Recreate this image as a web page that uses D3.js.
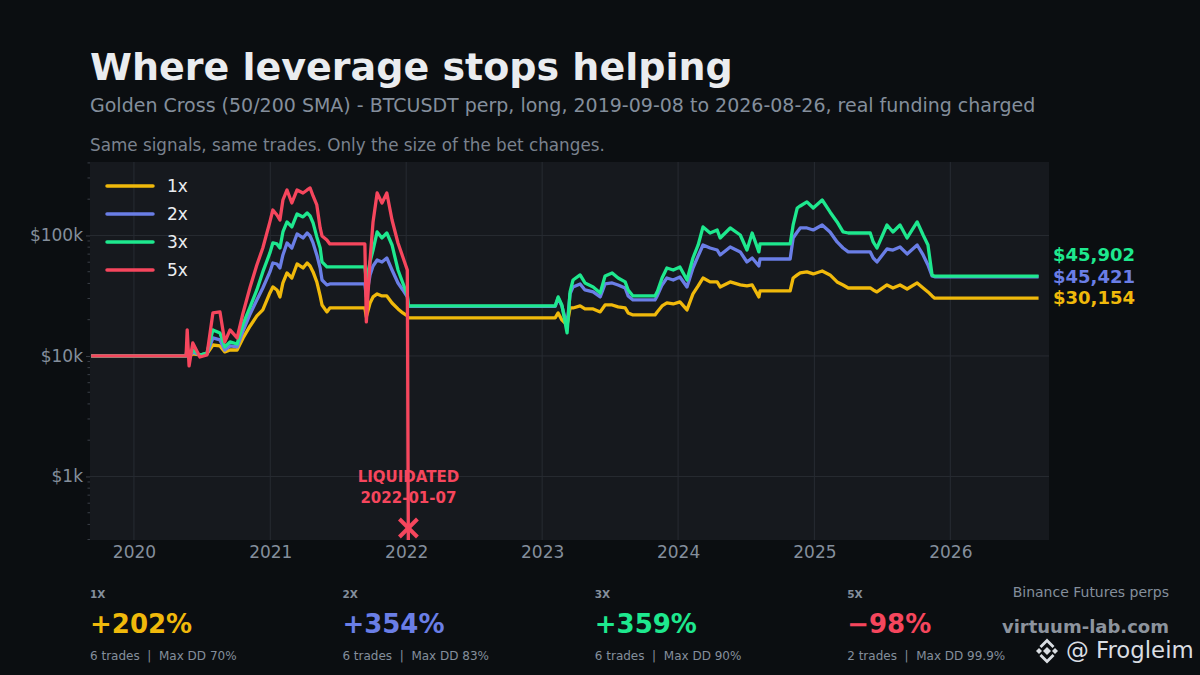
<!DOCTYPE html>
<html>
<head>
<meta charset="utf-8">
<script src="https://cdn.jsdelivr.net/npm/d3@7"></script>
<style>
html, body { margin: 0; padding: 0; background: #0b0e11; }
svg { display: block; font-family: "DejaVu Sans", sans-serif; }
</style>
</head>
<body>
<svg id="chart" width="1200" height="675"></svg>
<script>
// equity curves (USD, start = $10k)
const dates = [
  "2019-09-08","2020-05-20","2020-05-23","2020-05-28","2020-06-07","2020-06-26","2020-07-15","2020-07-31",
  "2020-08-19","2020-09-01","2020-09-15","2020-10-04","2020-10-20","2020-11-08","2020-11-26","2020-12-12",
  "2020-12-31","2021-01-08","2021-01-19","2021-01-27","2021-02-04","2021-02-15","2021-02-28","2021-03-14",
  "2021-03-30","2021-04-10","2021-04-18","2021-04-26","2021-05-06","2021-05-15","2021-05-20","2021-06-02",
  "2021-06-10","2021-09-12","2021-09-16","2021-09-26","2021-10-04","2021-10-15","2021-10-28","2021-11-10",
  "2021-11-24","2021-12-10","2021-12-23","2022-01-04","2022-01-07","2023-02-05","2023-02-13","2023-02-23",
  "2023-03-09","2023-03-17","2023-03-25","2023-04-13","2023-04-26","2023-05-18","2023-06-06","2023-06-19",
  "2023-07-08","2023-07-24","2023-08-12","2023-08-20","2023-09-02","2023-10-31","2023-11-06","2023-11-19",
  "2023-12-02","2023-12-19","2024-01-06","2024-01-25","2024-02-10","2024-02-24","2024-03-08","2024-03-27",
  "2024-04-15","2024-04-23","2024-05-20","2024-06-16","2024-07-04","2024-07-18","2024-08-05","2024-08-08",
  "2024-10-28","2024-11-05","2024-11-16","2024-11-24","2024-12-12","2024-12-29","2025-01-22","2025-02-12",
  "2025-03-03","2025-03-19","2025-04-02","2025-05-31","2025-06-08","2025-06-18","2025-07-15","2025-07-31",
  "2025-08-19","2025-09-07","2025-10-04","2025-10-20","2025-11-02","2025-11-13","2025-11-20","2026-08-26"
];

const eq1x = [
  10000,10000,10590,10000,10390,10190,10390,12330,12100,10800,11210,11210,14110,17740,21480,24090,
  33340,37390,35290,30900,40350,48850,44370,57980,53710,59090,55800,49820,41150,31480,26500,23200,
  25020,25020,21080,27530,30900,32710,31480,31480,27530,24550,22750,21480,20670,20670,22750,19900,
  18000,25020,25020,26000,24550,24550,23200,26500,26500,25520,25020,22750,21890,21890,23200,26000,
  27530,27010,28080,24090,32710,38100,44370,41150,41150,37390,41150,38840,38100,38840,30900,34620,
  34620,44370,47020,48850,49820,47930,50720,47020,41150,38840,36660,36660,35290,34000,38840,36660,
  38840,35970,40350,36660,34000,31480,30154,30154
];

const eq2x = [
  10000,10000,11210,9810,10800,10190,10390,14110,13580,11210,12100,11880,16130,22320,29160,36660,
  49820,59090,57980,53710,68900,86630,78680,102900,95310,104800,99000,86630,68900,53710,42710,38840,
  39590,39590,30900,47020,55800,62560,60260,65000,51700,40350,35290,30900,25760,25760,30300,26000,
  17800,32710,37390,39590,35290,34000,30900,39590,40350,38840,36660,31480,29160,29160,31480,38840,
  44370,42710,45250,37390,53710,67600,83380,78680,75730,68900,80240,73010,60260,65000,55800,63770,
  63770,95310,106900,115400,115400,111100,122200,106900,88340,78680,73010,73010,65000,60260,77200,75730,
  80240,70240,83380,68900,56880,46130,45421,45421
];

const eq3x = [
  10000,10000,11880,9620,11210,10190,10590,16440,15530,11880,13070,12570,18430,25520,35290,49820,
  71590,86630,84990,78680,106900,129500,117700,150800,142500,153700,145100,127000,97200,78680,60260,54780,
  54780,54780,42710,60260,75730,106900,95310,104800,83380,51700,40350,32090,26000,26000,30900,26500,
  15530,34000,42710,47020,40350,37390,33340,46130,48850,44370,41150,35290,31480,31480,34000,44370,
  53710,51700,54780,42710,65000,83380,117700,104800,111100,95310,115400,100900,75730,104800,73010,84990,
  84990,122200,169000,175700,189800,169000,196900,156700,129500,106900,104800,104800,88340,78680,122200,106900,
  122200,95310,129500,100900,83380,47020,45902,45902
];

// 5x is liquidated on 2022-01-07 (index 44), nothing after that
const eq5x = [
  10000,10000,16440,8260,12810,9810,10190,22750,23200,13070,16440,14110,22750,37390,56880,78680,
  129500,162700,147900,134400,196900,238500,186100,238500,225200,238500,247800,212700,179100,115400,99000,91740,
  84990,84990,19160,62560,129500,225200,186100,225200,134400,86630,66290,51700,200
];

const levels = ["1x", "2x", "3x", "5x"];
const colors = ["#f0b90b", "#6a7ee6", "#1ee88e", "#f6465d"];
const series = [eq1x, eq2x, eq3x, eq5x];
const totalReturn = ["+202%", "+354%", "+359%", "\u221298%"];
const tradeCounts = [6, 6, 6, 2];
const maxDD = ["70%", "83%", "90%", "99.9%"];

const yTicks = [1000, 10000, 100000];
const yTickLabels = ["$1k", "$10k", "$100k"];
const xTickYears = [2020, 2021, 2022, 2023, 2024, 2025, 2026];

const liqDate = "2022-01-07";

const svg = d3.select("#chart");
const parse = d3.utcParse("%Y-%m-%d");
const plot = { left: 90, top: 162, right: 1049, bottom: 540 };

svg.append("rect").attr("width", 1200).attr("height", 675).attr("fill", "#0b0e11");

// header
svg.append("text").attr("x", 90).attr("y", 80)
  .attr("font-size", 38).attr("font-weight", "bold").attr("fill", "#eaecef")
  .text("Where leverage stops helping");
svg.append("text").attr("x", 90).attr("y", 112)
  .attr("font-size", 19).attr("fill", "#848e9c")
  .text("Golden Cross (50/200 SMA) - BTCUSDT perp, long, 2019-09-08 to 2026-08-26, real funding charged");
svg.append("text").attr("x", 90).attr("y", 151)
  .attr("font-size", 16.8).attr("fill", "#7a828e")
  .text("Same signals, same trades. Only the size of the bet changes.");

// scales
const x = d3.scaleUtc()
  .domain([parse("2019-09-05"), parse("2026-09-23")])
  .range([plot.left, plot.right]);
const y = d3.scaleLog()
  .domain([297, 407000])
  .range([plot.bottom, plot.top]);

// panel
svg.append("rect")
  .attr("x", plot.left).attr("y", plot.top)
  .attr("width", plot.right - plot.left).attr("height", plot.bottom - plot.top)
  .attr("fill", "#16191e");

svg.append("clipPath").attr("id", "plotClip")
  .append("rect")
  .attr("x", plot.left).attr("y", plot.top)
  .attr("width", plot.right - plot.left).attr("height", plot.bottom - plot.top);

// grid
const grid = svg.append("g").attr("stroke", "#272b32").attr("stroke-width", 1);
yTicks.forEach(v => {
  grid.append("line").attr("x1", plot.left).attr("x2", plot.right)
    .attr("y1", y(v)).attr("y2", y(v));
});
xTickYears.forEach(yr => {
  const xx = x(Date.UTC(yr, 0, 1));
  grid.append("line").attr("x1", xx).attr("x2", xx)
    .attr("y1", plot.top).attr("y2", plot.bottom);
});

// y axis: major labels + minor ticks
const yAxis = d3.axisLeft(y)
  .tickValues(yTicks)
  .tickFormat((d, i) => yTickLabels[i])
  .tickSize(4).tickPadding(3);
const yG = svg.append("g").attr("transform", `translate(${plot.left},0)`).call(yAxis);
yG.select(".domain").remove();
yG.selectAll(".tick line").attr("stroke", "#3a3f47");
yG.selectAll(".tick text").attr("fill", "#848e9c").attr("font-size", 17)
  .attr("font-family", "DejaVu Sans");

const minor = [];
[100, 1000, 10000, 100000].forEach(dec => {
  for (let k = 2; k <= 9; k++) {
    const v = dec * k;
    if (v >= y.domain()[0] && v <= y.domain()[1]) minor.push(v);
  }
});
svg.append("g").selectAll("line").data(minor).join("line")
  .attr("x1", plot.left - 2.5).attr("x2", plot.left)
  .attr("y1", d => y(d)).attr("y2", d => y(d))
  .attr("stroke", "#3a3f47").attr("stroke-width", 1);

// x axis
const xAxis = d3.axisBottom(x)
  .tickValues(xTickYears.map(yr => new Date(Date.UTC(yr, 0, 1))))
  .tickFormat(d3.utcFormat("%Y"))
  .tickSize(0).tickPadding(6);
const xG = svg.append("g").attr("transform", `translate(0,${plot.bottom})`).call(xAxis);
xG.select(".domain").remove();
xG.selectAll(".tick text").attr("fill", "#848e9c").attr("font-size", 17)
  .attr("font-family", "DejaVu Sans");

// lines
const line = d3.line()
  .defined(d => d.v != null)
  .x(d => x(d.date))
  .y(d => y(d.v));

const linesG = svg.append("g").attr("clip-path", "url(#plotClip)");
series.forEach((vals, i) => {
  const pts = vals.map((v, j) => ({ date: parse(dates[j]), v: v }));
  linesG.append("path")
    .datum(pts)
    .attr("fill", "none")
    .attr("stroke", colors[i])
    .attr("stroke-width", 3.3)
    .attr("stroke-linejoin", "round")
    .attr("d", line);
});

// liquidation marker
const lx = x(parse(liqDate));
const ly = plot.bottom - 12;
const mk = svg.append("g").attr("stroke", colors[3]).attr("stroke-width", 4);
mk.append("line").attr("x1", lx - 9).attr("y1", ly - 9).attr("x2", lx + 9).attr("y2", ly + 9);
mk.append("line").attr("x1", lx - 9).attr("y1", ly + 9).attr("x2", lx + 9).attr("y2", ly - 9);
svg.append("text").attr("x", lx).attr("y", 482).attr("text-anchor", "middle")
  .attr("font-size", 15).attr("font-weight", "bold").attr("fill", colors[3])
  .text("LIQUIDATED");
svg.append("text").attr("x", lx).attr("y", 503).attr("text-anchor", "middle")
  .attr("font-size", 15).attr("font-weight", "bold").attr("fill", colors[3])
  .text(liqDate);

// legend
const legend = svg.append("g");
levels.forEach((lv, i) => {
  const ly2 = 186 + i * 28;
  legend.append("line").attr("x1", 107).attr("x2", 153).attr("y1", ly2).attr("y2", ly2)
    .attr("stroke", colors[i]).attr("stroke-width", 3.5).attr("stroke-linecap", "round");
  legend.append("text").attr("x", 167).attr("y", ly2 + 6)
    .attr("font-size", 17).attr("fill", "#eaecef").text(lv);
});

// end labels for surviving series, dodged apart
const fmt = d3.format("$,.0f");
const ends = [0, 1, 2].map(i => {
  const vals = series[i];
  const v = vals[vals.length - 1];
  return { i: i, v: v, y: y(v) };
}).sort((a, b) => b.y - a.y);
let prevY = Infinity;
ends.forEach(e => {
  e.ly = Math.min(e.y, prevY - 21.5);
  prevY = e.ly;
  svg.append("text").attr("x", 1053).attr("y", e.ly + 6)
    .attr("font-size", 18).attr("font-weight", "bold").attr("fill", colors[e.i])
    .text(fmt(e.v));
});

// bottom stats
levels.forEach((lv, i) => {
  const sx = 90 + i * 252.4;
  svg.append("text").attr("x", sx).attr("y", 598)
    .attr("font-size", 10.5).attr("font-weight", "bold").attr("fill", "#848e9c")
    .text(lv.toUpperCase());
  svg.append("text").attr("x", sx).attr("y", 633)
    .attr("font-size", 26).attr("font-weight", "bold").attr("fill", colors[i])
    .text(totalReturn[i]);
  svg.append("text").attr("x", sx).attr("y", 660)
    .attr("font-size", 12).attr("fill", "#848e9c")
    .attr("xml:space", "preserve")
    .text(`${tradeCounts[i]} trades  |  Max DD ${maxDD[i]}`);
});

// branding
svg.append("text").attr("x", 1169).attr("y", 597).attr("text-anchor", "end")
  .attr("font-size", 14).attr("fill", "#848e9c").text("Binance Futures perps");
svg.append("text").attr("x", 1169).attr("y", 633).attr("text-anchor", "end")
  .attr("font-size", 18).attr("font-weight", "bold").attr("fill", "#8d949e").text("virtuum-lab.com");

const logo = svg.append("g").attr("transform", "translate(1047,651)").attr("fill", "#d9dde2");
logo.append("path").attr("d", "M0,-4 L4,0 L0,4 L-4,0 Z");
logo.append("path").attr("d", "M-8,-3 L-5,0 L-8,3 L-11,0 Z");
logo.append("path").attr("d", "M8,-3 L11,0 L8,3 L5,0 Z");
logo.append("path").attr("d", "M0,-12.5 L7.5,-5 L5.5,-3 L0,-8.5 L-5.5,-3 L-7.5,-5 Z");
logo.append("path").attr("d", "M0,12.5 L7.5,5 L5.5,3 L0,8.5 L-5.5,3 L-7.5,5 Z");
svg.append("text").attr("x", 1066).attr("y", 658)
  .attr("font-size", 22.8).attr("fill", "#d9dde2").text("@ Frogleim");
</script>
</body>
</html>
